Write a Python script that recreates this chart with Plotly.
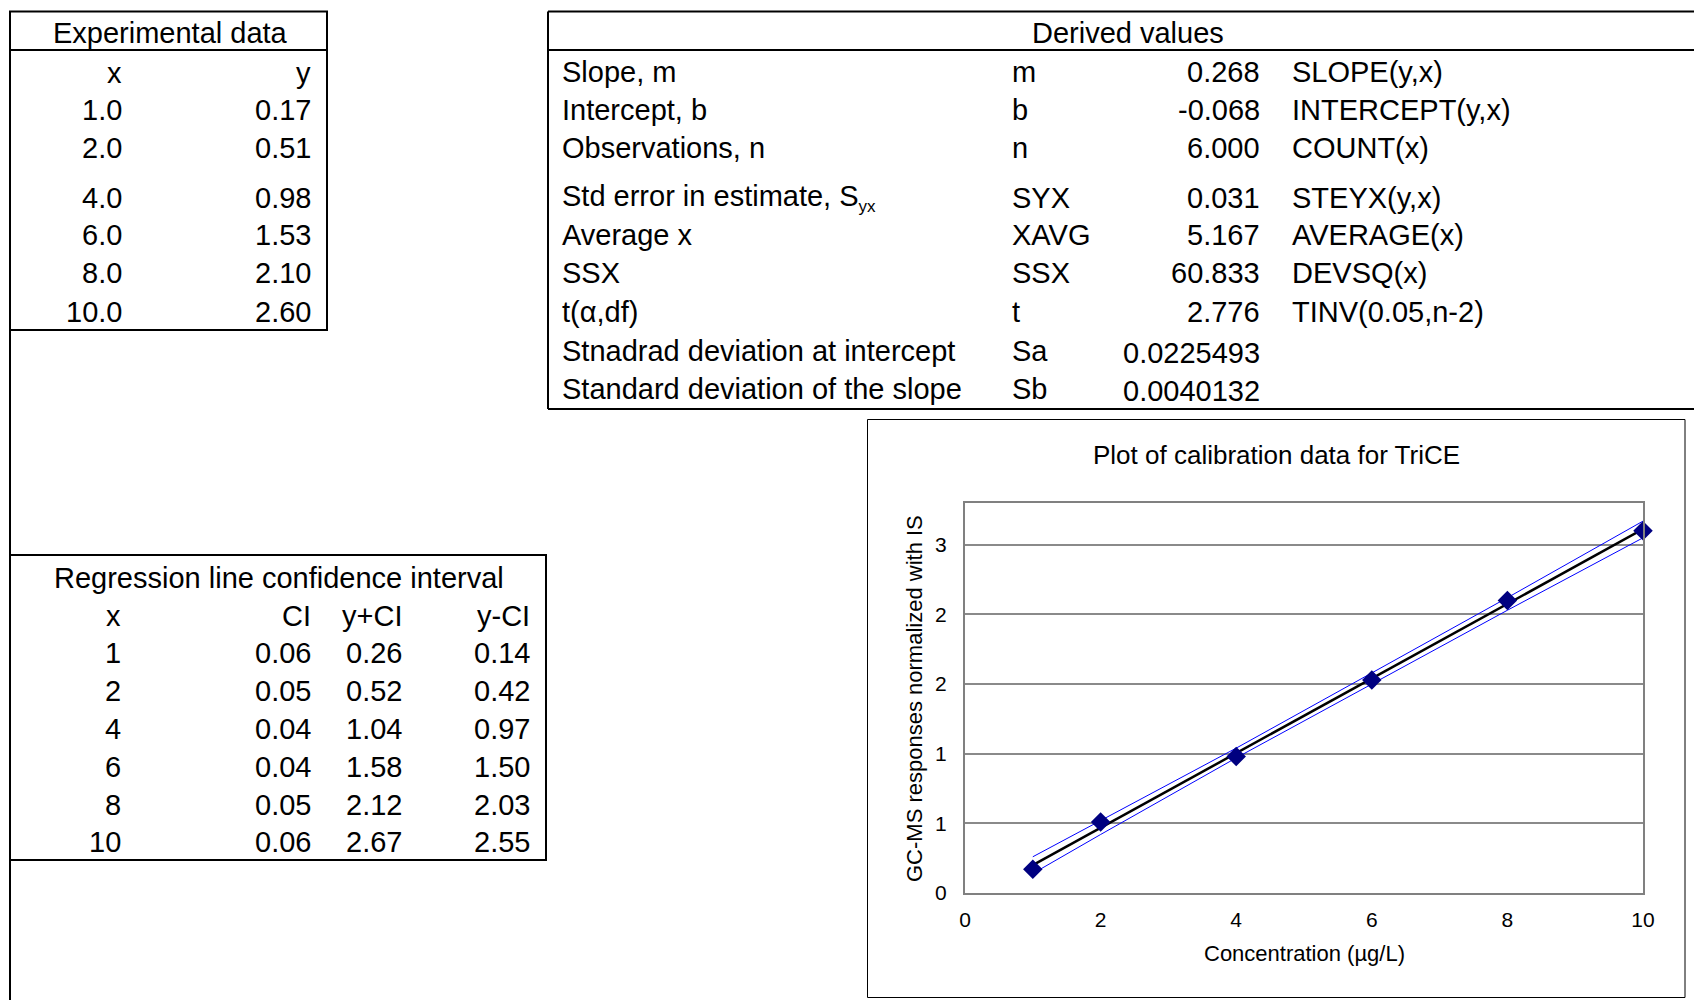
import plotly.graph_objects as go

# ---------------- data ----------------
exp_x = [1.0, 2.0, 4.0, 6.0, 8.0, 10.0]
exp_y = [0.17, 0.51, 0.98, 1.53, 2.10, 2.60]

derived_labels = ["Slope, m", "Intercept, b", "Observations, n",
                  "Std error in estimate, S<sub><span style='font-size:17px'>yx</span></sub>",
                  "Average x", "SSX",
                  "t(α,df)", "Stnadrad deviation at intercept",
                  "Standard deviation of the slope"]
derived_symbols = ["m", "b", "n", "SYX", "XAVG", "SSX", "t", "Sa", "Sb"]
derived_values = ["0.268", "-0.068", "6.000", "0.031", "5.167", "60.833",
                  "2.776", "0.0225493", "0.0040132"]
derived_formulas = ["SLOPE(y,x)", "INTERCEPT(y,x)", "COUNT(x)", "STEYX(y,x)",
                    "AVERAGE(x)", "DEVSQ(x)", "TINV(0.05,n-2)", "", ""]

ci_x = [1, 2, 4, 6, 8, 10]
ci_val = [0.06, 0.05, 0.04, 0.04, 0.05, 0.06]
ci_upper = [0.26, 0.52, 1.04, 1.58, 2.12, 2.67]
ci_lower = [0.14, 0.42, 0.97, 1.50, 2.03, 2.55]

slope = float(derived_values[0])
intercept = float(derived_values[1])
fit_y = [slope * x + intercept for x in ci_x]

x_tick_vals = [0, 2, 4, 6, 8, 10]
y_tick_vals = [0, 0.5, 1.0, 1.5, 2.0, 2.5]
y_tick_text = ["0", "1", "1", "2", "2", "3"]

chart_title = "Plot of calibration data for TriCE"
x_title = "Concentration (µg/L)"
y_title = "GC-MS responses normalized with IS"

# ---------------- layout helpers ----------------
W, H = 1694, 1000
FONT = "Liberation Sans, Arial, Helvetica, sans-serif"


def X(px):
    return px / W


def Y(py):
    return 1 - py / H


annotations = []
shapes = []


def text(s, x, y, anchor="left", size=29, **kw):
    annotations.append(dict(text=s, x=X(x), y=Y(y), xref="paper", yref="paper",
                            xanchor=anchor, yanchor="middle", showarrow=False,
                            font=dict(family=FONT, size=size, color="black"), **kw))


def line(x0, y0, x1, y1, w=2, color="black"):
    shapes.append(dict(type="line", xref="paper", yref="paper",
                       x0=X(x0), y0=Y(y0), x1=X(x1), y1=Y(y1),
                       line=dict(color=color, width=w)))


def rect(x0, y0, x1, y1, w=2, color="black"):
    shapes.append(dict(type="rect", xref="paper", yref="paper",
                       x0=X(x0), y0=Y(y0), x1=X(x1), y1=Y(y1),
                       line=dict(color=color, width=w), fillcolor="rgba(0,0,0,0)"))


# long left border
line(10, 11.5, 10, H)

# Experimental data table
rect(10, 11.5, 327, 330)
line(10, 50, 327, 50)
text("Experimental data", 170, 33, "center")
text("x", 124, 73, "right")
text("y", 313, 73, "right")
exp_rows_y = [110, 148, 198, 235, 273, 312]
for xv, yv, ry in zip(exp_x, exp_y, exp_rows_y):
    text(f"{xv:.1f}", 124, ry, "right")
    text(f"{yv:.2f}", 313, ry, "right")

# Derived values table
line(548, 11.5, W, 11.5)
line(548, 50, W, 50)
line(548, 409, W, 409)
line(548, 11.5, 548, 409)
text("Derived values", 1128, 33, "center")
der_rows_y = [72, 110, 148, 198, 235, 273, 312, 351, 389]
for lab, sym, val, frm, ry in zip(derived_labels, derived_symbols,
                                  derived_values, derived_formulas, der_rows_y):
    text(lab, 560, ry, "left")
    text(sym, 1010, ry, "left")
    text(val, 1262, ry + (2 if frm == "" else 0), "right")
    if frm:
        text(frm, 1290, ry, "left")

# Regression CI table
rect(10, 555, 546, 860)
text("Regression line confidence interval", 279, 578, "center")
text("x", 123, 616, "right")
text("CI", 313, 616, "right")
text("y+CI", 404, 616, "right")
text("y-CI", 532, 616, "right")
ci_rows_y = [653, 691, 729, 767, 805, 842]
for xv, c, up, lo, ry in zip(ci_x, ci_val, ci_upper, ci_lower, ci_rows_y):
    text(f"{xv:d}", 123, ry, "right")
    text(f"{c:.2f}", 313, ry, "right")
    text(f"{up:.2f}", 404, ry, "right")
    text(f"{lo:.2f}", 532, ry, "right")

# Chart frame
rect(867.5, 419.5, 1685, 997.5, w=1)
text(chart_title, 1276, 455, "center", size=26)
text(x_title, 1304, 953, "center", size=22)
text(y_title, 914, 698, "center", size=22, textangle=-90)

# ---------------- figure ----------------
fig = go.Figure()
fig.add_trace(go.Scatter(x=ci_x, y=ci_upper, mode="lines",
                         line=dict(color="#0000FF", width=1), hoverinfo="skip"))
fig.add_trace(go.Scatter(x=ci_x, y=ci_lower, mode="lines",
                         line=dict(color="#0000FF", width=1), hoverinfo="skip"))
fig.add_trace(go.Scatter(x=ci_x, y=fit_y, mode="lines",
                         line=dict(color="black", width=2.5)))
fig.add_trace(go.Scatter(x=exp_x, y=exp_y, mode="markers", cliponaxis=False,
                         marker=dict(symbol="diamond", size=15, color="#000080",
                                     line=dict(width=0))))

fig.update_layout(
    template="none",
    width=W, height=H, autosize=False,
    margin=dict(l=0, r=0, t=0, b=0, pad=0),
    paper_bgcolor="white", plot_bgcolor="white",
    showlegend=False,
    font=dict(family=FONT, color="black"),
    annotations=annotations, shapes=shapes,
    xaxis=dict(domain=[X(965), X(1643)], range=[0, 10], tickvals=x_tick_vals,
               showgrid=False, zeroline=False, showline=True, mirror=True,
               linecolor="#808080", linewidth=2, ticks="",
               ticklabelstandoff=7, tickfont=dict(size=21, family=FONT, color="black")),
    yaxis=dict(domain=[Y(893), Y(503)], range=[0, 2.8], tickvals=y_tick_vals,
               ticktext=y_tick_text, showgrid=True, gridcolor="#8a8a8a", gridwidth=1.5,
               zeroline=False, showline=True, mirror=True,
               linecolor="#808080", linewidth=2, ticks="",
               ticklabelstandoff=12, tickfont=dict(size=21, family=FONT, color="black")),
)

fig.write_html("out.html")
